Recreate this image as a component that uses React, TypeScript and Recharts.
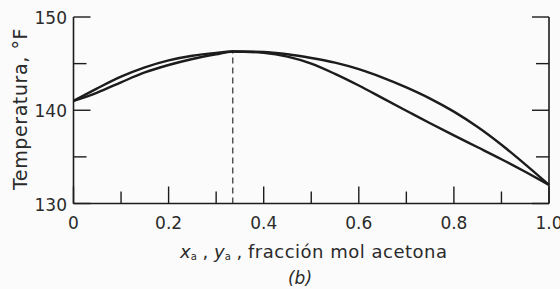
import React from "react";
import { LineChart, Line, XAxis, YAxis, ReferenceLine, Customized } from "recharts";

// Mole fraction of acetone (x axis)
const xFraction = [0, 0.05, 0.1, 0.15, 0.2, 0.25, 0.3, 0.335, 0.4, 0.45, 0.5, 0.55, 0.6, 0.65, 0.7, 0.75, 0.8, 0.85, 0.9, 0.95, 1.0];
// Dew-point (vapor) curve, °F
const vaporTemp = [141.0, 142.35, 143.6, 144.6, 145.35, 145.85, 146.15, 146.3, 146.25, 146.0, 145.6, 145.1, 144.4, 143.5, 142.45, 141.25, 139.85, 138.2, 136.3, 134.2, 132.0];
// Bubble-point (liquid) curve, °F
const liquidTemp = [141.0, 141.9, 143.0, 144.05, 144.85, 145.5, 146.0, 146.3, 146.15, 145.75, 145.0, 143.9, 142.65, 141.3, 139.95, 138.6, 137.3, 136.03, 134.75, 133.4, 132.0];

const xTicks = [0, 0.1, 0.2, 0.3, 0.4, 0.5, 0.6, 0.7, 0.8, 0.9, 1.0];
const xTickLabels = ["0", "", "0.2", "", "0.4", "", "0.6", "", "0.8", "", "1.0"];
const yTicks = [130, 135, 140, 145, 150];
const yTickLabels = ["130", "", "140", "", "150"];

const azeoX = 0.335;
const azeoT = 146.3;

const data = xFraction.map((x, i) => ({ x, vapor: vaporTemp[i], liquid: liquidTemp[i] }));

const INK = "#1c1c1c";
const FONT = "DejaVu Sans, Liberation Sans, Arial, sans-serif";

const BottomTick = (props: any) => {
  const { x, y, payload } = props;
  const i = xTicks.indexOf(payload.value);
  const label = i >= 0 ? xTickLabels[i] : "";
  const major = label !== "";
  return (
    <g>
      <line x1={x} y1={y} x2={x} y2={y - (major ? 17 : 12)} stroke={INK} strokeWidth={1.4} />
      {major && (
        <text x={x} y={y + 25} textAnchor="middle" fontSize={17} fontFamily={FONT} fill="#2a2a2a">
          {label}
        </text>
      )}
    </g>
  );
};

const TopTick = (props: any) => {
  const { x, y, payload } = props;
  const i = xTicks.indexOf(payload.value);
  const major = i >= 0 && xTickLabels[i] !== "";
  return <line x1={x} y1={y} x2={x} y2={y + (major ? 17 : 12)} stroke={INK} strokeWidth={1.4} />;
};

const LeftTick = (props: any) => {
  const { x, y, payload } = props;
  const i = yTicks.indexOf(payload.value);
  const label = i >= 0 ? yTickLabels[i] : "";
  const major = label !== "";
  return (
    <g>
      <line x1={x} y1={y} x2={x + (major ? 17 : 13)} y2={y} stroke={INK} strokeWidth={1.4} />
      {major && (
        <text x={x - 6.5} y={y + 7} textAnchor="end" fontSize={17} fontFamily={FONT} fill="#2a2a2a">
          {label}
        </text>
      )}
    </g>
  );
};

const RightTick = (props: any) => {
  const { x, y, payload } = props;
  const i = yTicks.indexOf(payload.value);
  const major = i >= 0 && yTickLabels[i] !== "";
  return <line x1={x} y1={y} x2={x - (major ? 17 : 13)} y2={y} stroke={INK} strokeWidth={1.4} />;
};

const Labels = () => (
  <g fontFamily={FONT} fill="#2a2a2a">
    <text transform="translate(27,109) rotate(-90)" textAnchor="middle" fontSize={19} letterSpacing={0.6}>
      Temperatura, °F
    </text>
    <text x={180} y={258} fontSize={18}>
      <tspan fontStyle="italic">x</tspan>
      <tspan fontSize={10} dy={2}>a</tspan>
      <tspan dy={-2}> , </tspan>
      <tspan fontStyle="italic">y</tspan>
      <tspan fontSize={10} dy={2}>a</tspan>
      <tspan dy={-2}> ,  </tspan>
      <tspan x={248} letterSpacing={0.5}>fracción mol acetona</tspan>
    </text>
    <text x={300} y={284} textAnchor="middle" fontSize={17} fontStyle="italic">
      (b)
    </text>
  </g>
);

export default function App() {
  return (
    <div style={{ position: "absolute", left: 0, top: 0, width: 560, height: 289, background: "#fbfbfb" }}>
      <LineChart width={560} height={289} data={data} margin={{ top: 17, right: 10, bottom: 0, left: 0 }}>
        <XAxis
          xAxisId="bottom"
          dataKey="x"
          type="number"
          domain={[0, 1]}
          ticks={xTicks}
          interval={0}
          orientation="bottom"
          height={85.5}
          tickSize={0}
          tickMargin={0}
          tickLine={false}
          tick={<BottomTick />}
          axisLine={{ stroke: INK, strokeWidth: 1.6 }}
        />
        <XAxis
          xAxisId="top"
          dataKey="x"
          type="number"
          domain={[0, 1]}
          ticks={xTicks}
          interval={0}
          orientation="top"
          height={0}
          tickSize={0}
          tickMargin={0}
          tickLine={false}
          tick={<TopTick />}
          axisLine={{ stroke: INK, strokeWidth: 1.6 }}
        />
        <YAxis
          yAxisId="left"
          type="number"
          domain={[130, 150]}
          ticks={yTicks}
          interval={0}
          orientation="left"
          width={73.5}
          tickSize={0}
          tickMargin={0}
          tickLine={false}
          tick={<LeftTick />}
          axisLine={{ stroke: INK, strokeWidth: 1.6 }}
        />
        <YAxis
          yAxisId="right"
          type="number"
          domain={[130, 150]}
          ticks={yTicks}
          interval={0}
          orientation="right"
          width={1}
          tickSize={0}
          tickMargin={0}
          tickLine={false}
          tick={<RightTick />}
          axisLine={{ stroke: INK, strokeWidth: 1.6 }}
        />
        <ReferenceLine
          xAxisId="bottom"
          yAxisId="left"
          segment={[{ x: azeoX, y: 130 }, { x: azeoX, y: azeoT }]}
          stroke={INK}
          strokeWidth={1.1}
          strokeDasharray="6 4"
        />
        <Line
          xAxisId="bottom"
          yAxisId="left"
          dataKey="vapor"
          type="monotone"
          stroke={INK}
          strokeWidth={2.4}
          dot={false}
          isAnimationActive={false}
        />
        <Line
          xAxisId="top"
          yAxisId="right"
          dataKey="liquid"
          type="monotone"
          stroke={INK}
          strokeWidth={2.4}
          dot={false}
          isAnimationActive={false}
        />
        <Customized component={<Labels />} />
      </LineChart>
    </div>
  );
}
